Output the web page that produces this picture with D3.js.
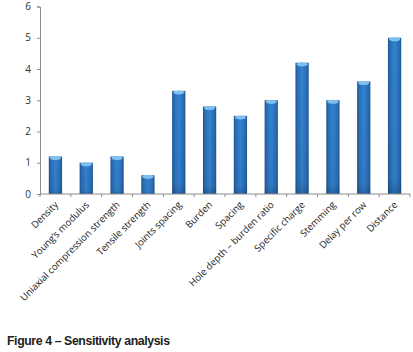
<!DOCTYPE html>
<html><head><meta charset="utf-8">
<script src="https://cdn.jsdelivr.net/npm/d3@7"></script>
<style>body{margin:0;background:#fff;} svg{display:block;}</style>
</head><body>
<script>
const categories = ["Density","Young’s modulus","Uniaxial compression strength","Tensile strength","Joints spacing","Burden","Spacing","Hole depth – burden ratio","Specific charge","Stemming","Delay per row","Distance"];
const values = [1.2,1.0,1.2,0.6,3.3,2.8,2.5,3.0,4.2,3.0,3.6,5.0];
const yTicks = [0,1,2,3,4,5,6];
const caption = "Figure 4 – Sensitivity analysis";

const W=413,H=352;
const svg=d3.select("body").append("svg").attr("width",W).attr("height",H);
const x0=40,x1=410,yTop=6.5,yBot=194;
const x=d3.scaleBand().domain(categories).range([x0,x1]).paddingInner(0.57).paddingOuter(0.285);
const xb=d3.scaleBand().domain(categories).range([x0,x1]);
const y=d3.scaleLinear().domain([0,6]).range([yBot,yTop]);

const defs=svg.append("defs");
const g=defs.append("linearGradient").attr("id","bar").attr("x1","0").attr("x2","1").attr("y1","0").attr("y2","0");
g.append("stop").attr("offset","0").attr("stop-color","#1c5491");
g.append("stop").attr("offset","0.15").attr("stop-color","#2a6db5");
g.append("stop").attr("offset","0.5").attr("stop-color","#3483d0");
g.append("stop").attr("offset","0.85").attr("stop-color","#2a6db5");
g.append("stop").attr("offset","1").attr("stop-color","#1c5491");
const gv=defs.append("linearGradient").attr("id","shade").attr("x1","0").attr("x2","0").attr("y1","0").attr("y2","1");
gv.append("stop").attr("offset","0").attr("stop-color","#000").attr("stop-opacity",0);
gv.append("stop").attr("offset","0.9").attr("stop-color","#000").attr("stop-opacity",0.05);
gv.append("stop").attr("offset","1").attr("stop-color","#000").attr("stop-opacity",0.2);

// axes
const ya=svg.append("g").attr("transform",`translate(${x0},0)`)
  .call(d3.axisLeft(y).tickValues(yTicks).tickSize(3).tickPadding(6).tickFormat(d3.format("d")));
ya.select(".domain").attr("stroke","#8c8c8c");
ya.selectAll(".tick line").attr("stroke","#8c8c8c");
ya.selectAll("text").attr("font-family","Open Sans, sans-serif").attr("font-size",10).attr("fill","#333");

const bars=svg.append("g");
categories.forEach((c,i)=>{
  const bx=x(c),bw=x.bandwidth(),by=y(values[i]);
  bars.append("rect").attr("x",bx).attr("y",by).attr("width",bw).attr("height",yBot-by).attr("fill","url(#bar)");
  bars.append("rect").attr("x",bx).attr("y",by).attr("width",bw).attr("height",yBot-by).attr("fill","url(#shade)");
  bars.append("ellipse").attr("cx",bx+bw/2).attr("cy",by+1.5).attr("rx",bw/2-1).attr("ry",2).attr("fill","#7fc0ee");
});

const xa=svg.append("g").attr("transform",`translate(0,${yBot})`);
xa.append("line").attr("x1",x0).attr("x2",x1).attr("y1",0).attr("y2",0).attr("stroke","#8c8c8c");
const bounds=categories.map(c=>xb(c)).concat([x1]);
xa.selectAll("line.t").data(bounds).enter().append("line")
  .attr("x1",d=>d).attr("x2",d=>d).attr("y1",0).attr("y2",3).attr("stroke","#8c8c8c");
xa.selectAll("text").data(categories).enter().append("text")
  .attr("transform",d=>`translate(${x(d)+x.bandwidth()/2+1},9) rotate(-45)`)
  .attr("text-anchor","end").attr("dy","0.35em")
  .attr("font-family","Open Sans, sans-serif").attr("font-size",9.6).attr("fill","#222")
  .text(d=>d);

svg.append("text").attr("x",7).attr("y",345).attr("font-family","Liberation Sans, Arial, sans-serif")
  .attr("font-weight","bold").attr("font-size",12.3).attr("letter-spacing","-0.4").attr("fill","#222").text(caption);
</script>
</body></html>
